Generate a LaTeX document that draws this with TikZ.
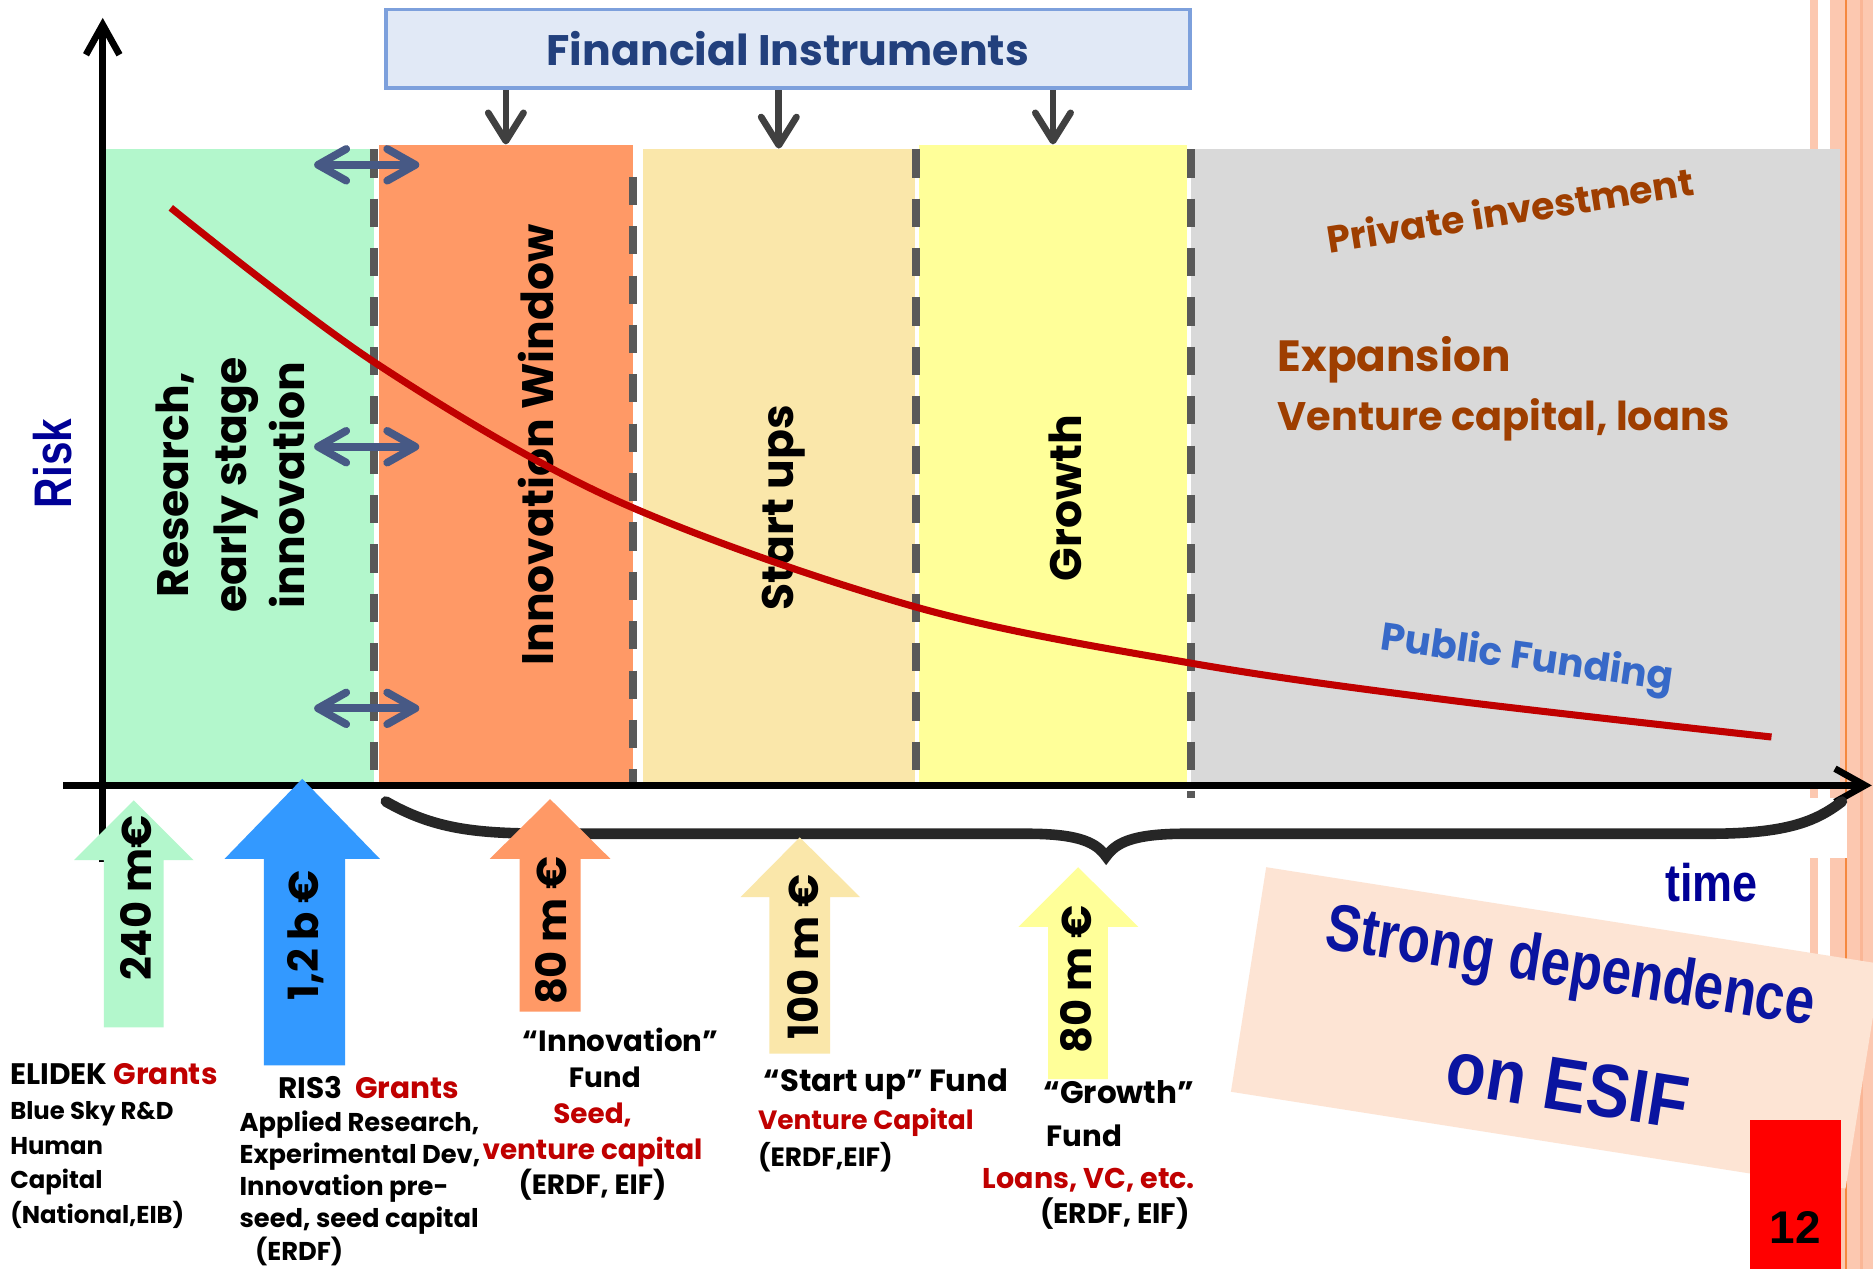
\documentclass[tikz,border=0pt]{standalone}
\usepackage{graphicx}
\usepackage{fontspec}
\setmainfont{Poppins}
\newfontfamily\arialfont{Liberation Sans}
\usetikzlibrary{arrows.meta,fit,positioning}

\definecolor{resgreen}{RGB}{179,247,204}
\definecolor{innorange}{RGB}{255,153,102}
\definecolor{starttan}{RGB}{250,231,170}
\definecolor{growyellow}{RGB}{255,255,153}
\definecolor{expgray}{RGB}{217,217,217}
\definecolor{ris3blue}{RGB}{51,153,255}
\definecolor{sepgray}{RGB}{89,89,89}
\definecolor{linkblue}{RGB}{71,89,133}
\definecolor{feedgray}{RGB}{64,64,64}
\definecolor{fifill}{RGB}{225,233,246}
\definecolor{fidraw}{RGB}{125,160,220}
\definecolor{fitext}{RGB}{34,64,125}
\definecolor{riskred}{RGB}{192,0,0}
\definecolor{privbrown}{RGB}{158,62,0}
\definecolor{pubblue}{RGB}{55,105,200}
\definecolor{axisnavy}{RGB}{0,0,150}
\definecolor{esifnavy}{RGB}{10,20,160}
\definecolor{esifpeach}{RGB}{253,228,212}
\definecolor{stripepeach}{RGB}{252,200,176}
\definecolor{stripedark}{RGB}{250,182,150}
\definecolor{stripeorange}{RGB}{245,136,63}
\definecolor{pagered}{RGB}{255,0,0}

\begin{document}
\begin{tikzpicture}[x=0.3387pt,y=-0.3387pt,
    sep/.style={draw=sepgray,line width=2.3pt,dash pattern=on 8pt off 6pt},
    link/.style={draw=linkblue,line width=2.2pt,
      {Straight Barb[length=8pt,width=9pt,round]}-{Straight Barb[length=8pt,width=9pt,round]}},
    feed/.style={draw=feedgray,line width=1.9pt,-{Straight Barb[length=8pt,width=10pt,round]}},
    axis/.style={line width=1.9pt,-{Straight Barb[length=8.5pt,width=9.5pt]}},
    band/.style={inner sep=0pt,draw=none},
    stage/.style={rotate=90,inner sep=0pt,font=\fontsize{12.5}{16.4}\selectfont\bfseries},
    amount/.style={rotate=90,inner sep=0pt,anchor=base,font=\fontsize{11.8}{14}\selectfont\bfseries},
    fund/.style={inner sep=0pt},
    gray text/.style={inner sep=0pt,text=privbrown}]
  \useasboundingbox (0,0) rectangle (1568,1062);
  \fill[white] (0,0) rectangle (1568,1062);

  % page frame stripes
  \fill[stripepeach] (1515,0) rectangle (1522,1062);
  \fill[stripepeach] (1532,0) rectangle (1568,1062);
  \fill[stripedark] (1557,0) rectangle (1560,1062);
  \fill[stripeorange] (1544.5,0) rectangle (1546.5,1062);

  % stages
  \node[band,fill=resgreen,fit={(88,125) (313,658)}] (research) {};
  \node[band,fill=innorange,fit={(317,121.5) (530,658)}] (innov) {};
  \node[band,fill=starttan,fit={(538,125) (766,658)}] (startup) {};
  \node[band,fill=growyellow,fit={(769,121.5) (994,658)}] (growth) {};
  \node[band,fill=expgray,fit={(997,125) (1540,658)}] (expansion) {};
  \fill[white] (1496,668) rectangle (1546,718);

  \draw[sep] (313,125) -- (313,658);
  \draw[sep] (530,148) -- (530,658);
  \draw[sep] (766.5,125) -- (766.5,658);
  \draw[sep] (997,125) -- (997,668);

  % financial instruments
  \node[fit={(323,8) (996,74)},inner sep=0pt,draw=fidraw,fill=fifill,line width=1.1pt] (fi) {};
  \node[anchor=base,text=fitext,font=\fontsize{12.1}{15}\selectfont\bfseries] (fititle) at (659.5,55) {Financial Instruments};
  \foreach \stagename in {innov,startup,growth}
    \draw[feed] (fi.south -| \stagename.north) -- (\stagename.north);

  % axes
  \coordinate (ytop) at (86,15);
  \coordinate (ybot) at (86,722);
  \coordinate (xleft) at (53,657.5);
  \coordinate (xright) at (1567,657.5);
  \draw[axis] (ybot) -- (ytop);
  \draw[axis] (xleft) -- (xright);

  % stage labels
  \node[stage,align=center] (researchlbl) at (193,406) {Research,\\early stage\\innovation};
  \node[stage,anchor=base] (innovlbl) at (463,372.5) {Innovation Window};
  \node[stage,anchor=base] (startuplbl) at (664,425) {Start ups};
  \node[stage,anchor=base] (growthlbl) at (905,417) {Growth};

  % risk curve
  \draw[riskred,line width=2pt] plot[smooth,tension=0.55] coordinates
    {(143,174) (313,303) (516,419) (766,508) (996,555) (1212,586) (1483,617)};

  \foreach \y [count=\i] in {138,374,593} {
    \coordinate (linkl\i) at (263,\y);
    \coordinate (linkr\i) at (351,\y);
    \draw[link] (linkl\i) -- (linkr\i);
  }

  \node[gray text,anchor=base,rotate=9,font=\fontsize{10.7}{13}\selectfont\bfseries] (privlbl) at (1266,188) {Private investment};
  \node[gray text,anchor=base west,font=\fontsize{12.4}{15}\selectfont\bfseries] (explbl) at (1069,311) {Expansion};
  \node[gray text,anchor=base west,font=\fontsize{11.3}{14}\selectfont\bfseries] (vclbl) at (1069,360) {Venture capital, loans};
  \node[inner sep=0pt,anchor=base,rotate=-8,text=pubblue,font=\fontsize{11}{13}\selectfont\bfseries] (publbl) at (1277,561) {Public Funding};

  % brace under the axis
  \draw[line width=3pt,black!85,line cap=round] (323,671) .. controls (370,698) and (410,698) .. (480,698)
    -- (860,698) .. controls (905,698) and (918,706) .. (926,717)
    .. controls (934,706) and (947,698) .. (992,698) -- (1430,698)
    .. controls (1495,698) and (1520,688) .. (1542,671);

  % funding arrows
  \fill[resgreen] (62,720) -- (112,670) -- (162,720) -- (137,720) -- (137,860) -- (87,860) -- (87,720) -- cycle;
  \fill[ris3blue] (188,719) -- (253,652) -- (318,719) -- (289,719) -- (289,892) -- (221,892) -- (221,719) -- cycle;
  \fill[innorange] (410,719) -- (460.5,669) -- (511,719) -- (486,719) -- (486,847) -- (435,847) -- (435,719) -- cycle;
  \fill[starttan] (620,751) -- (669.5,701) -- (720,751) -- (695,751) -- (695,882) -- (644,882) -- (644,751) -- cycle;
  \fill[growyellow] (852.5,776) -- (902.5,726) -- (953,776) -- (927.5,776) -- (927.5,903.5) -- (877.5,903.5) -- (877.5,776) -- cycle;
  \node[amount] (amt240) at (127,752) {240 m€};
  \node[amount] (amt12) at (267,783) {1,2 b €};
  \node[amount] (amt80a) at (474.5,779) {80 m €};
  \node[amount] (amt100) at (685,801) {100 m €};
  \node[amount] (amt80b) at (914,820) {80 m €};

  % funds (multi-line nodes sit on their last baseline)
  \node[fund,anchor=base west,font=\fontsize{8.4}{10}\selectfont\bfseries] (elidekhead) at (8,908) {ELIDEK \textcolor{riskred}{Grants}};
  \node[fund,anchor=base west,align=left,font=\fontsize{6.9}{9.8}\selectfont\bfseries] (elidekbody) at (8,1024)
    {Blue Sky R\&D\\Human\\Capital\\(National,EIB)};
  \node[fund,anchor=base west,font=\fontsize{8.4}{10}\selectfont\bfseries] (ris3head) at (232.5,919.4) {RIS3~~\textcolor{riskred}{Grants}};
  \node[fund,anchor=base west,align=left,font=\fontsize{7.3}{9.15}\selectfont\bfseries] (ris3body) at (200,1055)
    {Applied Research,\\Experimental Dev,\\Innovation pre-\\seed, seed capital\\\hspace*{4.4pt}(ERDF)};
  \node[fund,anchor=base,align=center,font=\fontsize{7.9}{10.2}\selectfont\bfseries] (innovfund) at (496,1000.4)
    {\hspace*{16pt}{\fontsize{8.3}{10.2}\selectfont “Innovation”}\\\hspace*{7pt}Fund\\\textcolor{riskred}{Seed,}\\\textcolor{riskred}{venture capital}\\(ERDF, EIF)};
  \node[fund,anchor=base west,font=\fontsize{8.7}{11}\selectfont\bfseries] (startuphead) at (638.7,914) {“Start up” Fund};
  \node[fund,anchor=base west,align=left,font=\fontsize{7.5}{10.4}\selectfont\bfseries] (startupbody) at (634,976.7)
    {\textcolor{riskred}{Venture Capital}\\(ERDF,EIF)};
  \node[fund,anchor=base west,align=left,font=\fontsize{8.8}{12.3}\selectfont\bfseries] (growthhead) at (872.8,960)
    {“Growth”\\\hspace*{1pt}{\fontsize{8.3}{12.3}\selectfont Fund}};
  \node[fund,anchor=base east,align=right,font=\fontsize{8.1}{9.9}\selectfont\bfseries] (growthbody) at (1001,1024)
    {\textcolor{riskred}{Loans, VC, etc.}\\{\fontsize{8}{9.9}\selectfont (ERDF, EIF)}\hspace*{1.5pt}};

  % axis titles
  \node[inner sep=0pt,anchor=base,rotate=90,text=axisnavy,font=\arialfont\fontsize{15}{18}\selectfont\bfseries] (risklbl) at (60,388) {\scalebox{0.8}[1]{Risk}};
  \node[inner sep=0pt,anchor=base,text=axisnavy,font=\arialfont\fontsize{15}{18}\selectfont\bfseries] (timelbl) at (1433,755) {\scalebox{0.85}[1]{time}};

  % ESIF note
  \fill[esifpeach] (1030.5,914) -- (1060,726) -- (1575,807) -- (1545,995) -- cycle;
  \node[inner sep=0pt,anchor=base,rotate=-9,text=esifnavy,font=\arialfont\fontsize{15}{18}\selectfont\bfseries] (esifa) at (1312,826) {\scalebox{1}[1.25]{Strong dependence}};
  \node[inner sep=0pt,anchor=base,rotate=-9,text=esifnavy,font=\arialfont\fontsize{18.5}{22}\selectfont\bfseries] (esifb) at (1309,930) {\scalebox{1}[1.15]{on ESIF}};

  \fill[pagered] (1465,937.5) rectangle (1541,1062);
  \node[inner sep=0pt,anchor=base,font=\arialfont\fontsize{13}{15}\selectfont\bfseries] (pagenum) at (1503,1041) {12};
\end{tikzpicture}
\end{document}
